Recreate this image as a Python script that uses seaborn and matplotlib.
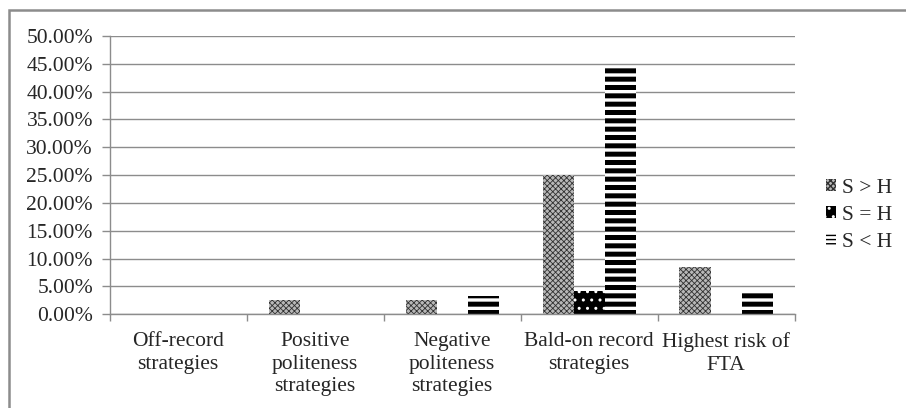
import pandas as pd
import matplotlib.pyplot as plt
import seaborn as sns
from matplotlib.patches import Rectangle
from matplotlib.ticker import FuncFormatter, FixedLocator

categories = ['Off-record\nstrategies', 'Positive\npoliteness\nstrategies',
              'Negative\npoliteness\nstrategies', 'Bald-on record\nstrategies',
              'Highest risk of\nFTA']
groups = ['S > H', 'S = H', 'S < H']
s_gt_h = [0.0, 2.5, 2.5, 25.0, 8.4]
s_eq_h = [0.0, 0.0, 0.0, 4.2, 0.0]
s_lt_h = [0.0, 0.0, 3.3, 44.5, 4.2]

rows = []
for g, vals in zip(groups, [s_gt_h, s_eq_h, s_lt_h]):
    for c, v in zip(categories, vals):
        rows.append({'category': c, 'group': g, 'value': v})
df = pd.DataFrame(rows)

sns.set_style('white')
plt.rcParams['font.family'] = ['Liberation Serif', 'DejaVu Serif']
FS = 15.5

fig = plt.figure(figsize=(9.06, 4.08), dpi=100)
ax = fig.add_axes([0.121, 0.230, 0.756, 0.682])

sns.barplot(data=df, x='category', y='value', hue='group', order=categories,
            hue_order=groups, width=0.68, ax=ax, legend=False,
            palette=['white', 'white', 'white'])

# fill styles per series
styles = [
    dict(face='#b8b8b8', edge='#303030', hatch='xxxxxx', hlw=0.6),
    dict(face='black', edge='white', hatch='..', hlw=1.0),
    dict(face='white', edge='black', hatch='--', hlw=3.6),
]
handles = []
for cont, st, g in zip(ax.containers, styles, groups):
    for p in cont.patches:
        p.set_facecolor(st['face'])
        p.set_edgecolor(st['edge'])
        p.set_hatch(st['hatch'])
        p.set_linewidth(0)
        if hasattr(p, 'set_hatch_linewidth'):
            p.set_hatch_linewidth(st['hlw'])
        else:
            p._hatch_linewidth = st['hlw']
    h = Rectangle((0, 0), 1, 1, facecolor=st['face'], edgecolor=st['edge'],
                  hatch=st['hatch'] * 2 if st['hatch'] == '--' else st['hatch'],
                  linewidth=0, label=g)
    hl = min(st['hlw'], 2.2)
    if hasattr(h, 'set_hatch_linewidth'):
        h.set_hatch_linewidth(hl)
    else:
        h._hatch_linewidth = hl
    handles.append(h)

ax.set_ylim(0, 50)
ax.set_xlim(-0.5, 4.5)
ax.set_yticks(range(0, 51, 5))
ax.yaxis.set_major_formatter(FuncFormatter(lambda v, _: f'{v:.2f}%'))
ax.yaxis.grid(True, color='#8c8c8c', linewidth=1)
ax.set_axisbelow(True)
ax.set_xlabel('')
ax.set_ylabel('')

ax.xaxis.set_minor_locator(FixedLocator([-0.5, 0.5, 1.5, 2.5, 3.5, 4.5]))
ax.tick_params(axis='x', which='major', length=0, pad=13, labelsize=FS)
ax.tick_params(axis='x', which='minor', length=5, color='#8c8c8c', width=1,
               direction='out', bottom=True)
ax.tick_params(axis='y', length=6, color='#8c8c8c', width=1, direction='out',
               left=True, labelsize=FS, pad=6)
for lbl in ax.get_xticklabels():
    lbl.set_linespacing(1.25)

for side in ['top', 'right']:
    ax.spines[side].set_visible(False)
for side in ['left', 'bottom']:
    ax.spines[side].set_color('#8c8c8c')
    ax.spines[side].set_linewidth(1)

ax.legend(handles=handles, loc='center left', bbox_to_anchor=(1.03, 0.355),
          frameon=False, fontsize=FS, handlelength=0.45, handleheight=0.45,
          handletextpad=0.3, labelspacing=0.38, borderpad=0)

fig.patches.append(Rectangle((0.0099, -0.05), 1.1, 1.0255, transform=fig.transFigure,
                             fill=False, edgecolor='#8c8c8c', linewidth=1.8))

fig.savefig('out.png', dpi=100)
